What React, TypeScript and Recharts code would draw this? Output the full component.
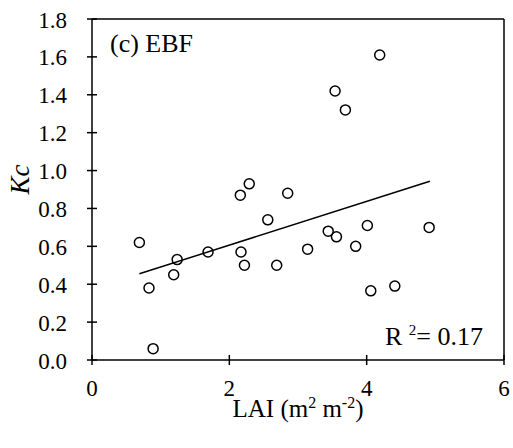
import React from 'react';
import {
  ScatterChart,
  Scatter,
  XAxis,
  YAxis,
  ReferenceLine,
} from 'recharts';

// LAI vs Kc, EBF sites
const lai = [4.19, 3.54, 3.69, 2.29, 2.16, 2.85, 0.69, 2.56, 4.01, 4.91, 3.44, 3.56, 1.69, 2.17, 3.14, 3.84, 1.24, 2.22, 2.69, 1.19, 0.83, 4.06, 4.41, 0.89];
const kc = [1.61, 1.42, 1.32, 0.93, 0.87, 0.88, 0.62, 0.74, 0.71, 0.70, 0.68, 0.65, 0.57, 0.57, 0.585, 0.60, 0.53, 0.50, 0.50, 0.45, 0.38, 0.365, 0.39, 0.06];

// fitted line end points
const fitLai = [0.69, 4.92];
const fitKc = [0.455, 0.944];

const xTicks = [0, 2, 4, 6];
const yTicks = [0, 0.2, 0.4, 0.6, 0.8, 1.0, 1.2, 1.4, 1.6, 1.8];

const points = lai.map((x, i) => ({ x, y: kc[i] }));
const fitLine = fitLai.map((x, i) => ({ x, y: fitKc[i] }));

const FONT = 'Liberation Serif, Times New Roman, Times, serif';

const XTick = (props: any) => {
  const { x, y, payload } = props;
  return (
    <g>
      <line x1={x} x2={x} y1={y - 5} y2={y + 5} stroke="#000" strokeWidth={1.5} />
      <text x={x} y={y + 36} textAnchor="middle" style={{ fontFamily: FONT }} fontSize={23} fill="#000">
        {payload.value}
      </text>
    </g>
  );
};

const YTick = (props: any) => {
  const { x, y, payload } = props;
  return (
    <g>
      <line x1={x - 5} x2={x + 5} y1={y} y2={y} stroke="#000" strokeWidth={1.5} />
      <text x={x - 25} y={y + 8.5} textAnchor="end" style={{ fontFamily: FONT }} fontSize={23} fill="#000">
        {Number(payload.value).toFixed(1)}
      </text>
    </g>
  );
};

const XTitle = (props: any) => {
  const { viewBox } = props;
  const cx = viewBox.x + viewBox.width / 2;
  return (
    <text x={cx} y={viewBox.y + 57} textAnchor="middle" style={{ fontFamily: FONT }} fontSize={25} fill="#000">
      LAI (m<tspan dy={-9} fontSize={16}>2</tspan>
      <tspan dy={9}> m</tspan>
      <tspan dy={-9} fontSize={16}>-2</tspan>
      <tspan dy={9}>)</tspan>
    </text>
  );
};

const YTitle = (props: any) => {
  const { viewBox } = props;
  const cy = viewBox.y + viewBox.height / 2 - 10;
  return (
    <text
      x={29}
      y={cy}
      transform={`rotate(-90, 29, ${cy})`}
      textAnchor="middle"
      style={{ fontFamily: FONT }}
      fontSize={27}
      fontStyle="italic"
      fill="#000"
    >
      Kc
    </text>
  );
};

const OpenCircle = (props: any) => {
  const { cx, cy } = props;
  return <circle cx={cx} cy={cy} r={5} fill="none" stroke="#000" strokeWidth={1.5} />;
};

export default function App() {
  return (
    <div style={{ position: 'absolute', left: 0, top: 0, width: 513, height: 448, background: '#fff' }}>
      <ScatterChart width={513} height={448} margin={{ top: 19, right: 9, bottom: 0, left: 0 }}>
        <XAxis
          type="number"
          dataKey="x"
          domain={[0, 6]}
          ticks={xTicks}
          height={88}
          tickSize={0}
          tickMargin={0}
          tickLine={false}
          axisLine={{ stroke: '#000', strokeWidth: 1.5 }}
          tick={<XTick />}
          label={{ content: <XTitle /> }}
        />
        <YAxis
          type="number"
          dataKey="y"
          domain={[0, 1.8]}
          ticks={yTicks}
          width={92}
          tickSize={0}
          tickMargin={0}
          tickLine={false}
          axisLine={{ stroke: '#000', strokeWidth: 1.5 }}
          tick={<YTick />}
          label={{ content: <YTitle /> }}
        />
        <ReferenceLine y={1.8} stroke="#000" strokeWidth={1.5} />
        <ReferenceLine x={6} stroke="#000" strokeWidth={1.5} />
        <Scatter
          data={fitLine}
          line={{ stroke: '#000', strokeWidth: 1.5 }}
          shape={() => null}
          isAnimationActive={false}
        />
        <Scatter data={points} shape={<OpenCircle />} isAnimationActive={false} />
      </ScatterChart>
      <div
        style={{ position: 'absolute', left: 110, top: 31, fontFamily: FONT, fontSize: 26, color: '#000', lineHeight: 1 }}
      >
        (c) EBF
      </div>
      <div
        style={{ position: 'absolute', left: 385, top: 323, fontFamily: FONT, fontSize: 26, color: '#000', lineHeight: 1, whiteSpace: 'nowrap' }}
      >
        R <sup style={{ fontSize: 15 }}>2</sup>= 0.17
      </div>
    </div>
  );
}
